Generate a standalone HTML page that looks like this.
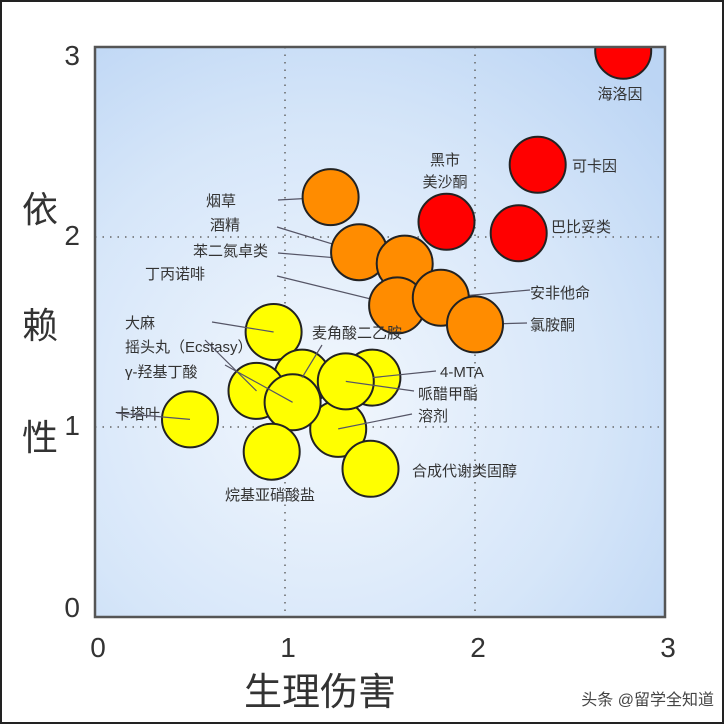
<!DOCTYPE html>
<html><head><meta charset="utf-8">
<style>
html,body{margin:0;padding:0;background:#fff;}
svg{display:block;font-family:"Liberation Sans","Noto Sans CJK SC",sans-serif;}
</style></head>
<body>
<svg id="chart" width="724" height="724" viewBox="0 0 724 724">
<defs>
<radialGradient id="bg" cx="0.4" cy="0.62" r="0.8">
<stop offset="0" stop-color="#f2f7fd"/>
<stop offset="0.6" stop-color="#d6e6f9"/>
<stop offset="1" stop-color="#bcd5f4"/>
</radialGradient>
<clipPath id="clip"><rect x="95" y="47" width="570" height="570"/></clipPath>
</defs>
<rect x="1" y="1" width="722" height="722" fill="#fff" stroke="#222" stroke-width="2"/>
<rect x="95" y="47" width="570" height="570" fill="url(#bg)"/>
<g id="grid"></g>
<g id="leaders"></g>
<g id="marks" clip-path="url(#clip)"></g>
<rect x="95" y="47" width="570" height="570" fill="none" stroke="#555" stroke-width="2.5"/>
<g id="labels"></g>
<g id="ticks"></g>
<text x="40" y="222" font-size="36" fill="#333" text-anchor="middle">依</text>
<text x="40" y="338" font-size="36" fill="#333" text-anchor="middle">赖</text>
<text x="40" y="450" font-size="36" fill="#333" text-anchor="middle">性</text>
<text x="320" y="705" font-size="38" fill="#333" text-anchor="middle">生理伤害</text>
<text x="714" y="705" font-size="16" fill="#444" text-anchor="end">头条 @留学全知道</text>
</svg>
<script>
const names=["海洛因","可卡因","巴比妥类","美沙酮","烟草","酒精","苯二氮卓类","丁丙诺啡","安非他命","氯胺酮","大麻","4-MTA","麦角酸二乙胺","溶剂","摇头丸","γ-羟基丁酸","哌醋甲酯","卡塔叶","烷基亚硝酸盐","合成代谢类固醇"];
const harm=[2.78,2.33,2.23,1.85,1.24,1.39,1.63,1.59,1.82,2.0,0.94,1.46,1.09,1.28,0.85,1.04,1.32,0.5,0.93,1.45];
const dependence=[2.98,2.38,2.02,2.08,2.21,1.92,1.86,1.64,1.68,1.54,1.5,1.26,1.26,0.99,1.19,1.13,1.24,1.04,0.87,0.78];
const group=["red","red","red","red","orange","orange","orange","orange","orange","orange","yellow","yellow","yellow","yellow","yellow","yellow","yellow","yellow","yellow","yellow"];
const xTicks=[0,1,2,3];
const yTicks=[0,1,2,3];
const labelPos=[[620,99,"middle"],[572,171,"start"],[551,232,"start"],[445,165,"middle"],[236,206,"end"],[240,230,"end"],[268,256,"end"],[205,279,"end"],[530,298,"start"],[530,330,"start"],[125,328,"start"],[440,377,"start"],[312,338,"start"],[418,421,"start"],[125,352,"start"],[125,377,"start"],[418,399,"start"],[115,419,"start"],[270,500,"middle"],[412,476,"start"]];
const leaderStart=[null,null,null,null,[278,200],[277,227],[278,253],[277,276],[530,290],[527,323],[212,322],[436,371],[322,345],[412,414],[205,340],[225,365],[414,391],[117,413],null,null];
const colors={red:"#ff0000",orange:"#ff8c00",yellow:"#ffff00"};
const NS="http://www.w3.org/2000/svg";
const xs=v=>95+190*v, ys=v=>617-190*v;
const R=28;
function mk(t,a){const e=document.createElementNS(NS,t);for(const k in a)e.setAttribute(k,a[k]);return e;}
const grid=document.getElementById("grid");
[1,2].forEach(v=>{
 const l1=mk("line",{x1:xs(v),x2:xs(v),y1:47,y2:617,stroke:"#666","stroke-width":1.5,"stroke-dasharray":"1.5 6"});
 
 
 grid.appendChild(l1);
 const l2=mk("line",{x1:95,x2:665,y1:ys(v),y2:ys(v),stroke:"#666","stroke-width":1.5,"stroke-dasharray":"1.5 6"});
 
 
 grid.appendChild(l2);
});
const ticks=document.getElementById("ticks");
xTicks.forEach(v=>{
 const t=mk("text",{x:xs(v)+3,y:657,"font-size":28,fill:"#333","text-anchor":"middle"});t.textContent=v;
 
 
 ticks.appendChild(t);
});
yTicks.forEach(v=>{
 const t=mk("text",{x:80,y:ys(v)+ (v==3?18:(v==0?0:8)),"font-size":28,fill:"#333","text-anchor":"end"});t.textContent=v;
 
 
 ticks.appendChild(t);
});
const leaders=document.getElementById("leaders");
const marks=document.getElementById("marks");
const labels=document.getElementById("labels");
names.forEach((n,i)=>{
 const cx=xs(harm[i]),cy=ys(dependence[i]);
 const c=mk("circle",{cx:cx,cy:cy,r:R,fill:colors[group[i]],stroke:"#222","stroke-width":2});
 
 
 marks.appendChild(c);
 const p=labelPos[i];
 if(i===3){
  ["黑市","美沙酮"].forEach((s,k)=>{
   const t=mk("text",{x:p[0],y:p[1]+k*22,"font-size":15,fill:"#333","text-anchor":"middle"});t.textContent=s;
   
   
   labels.appendChild(t);
  });
 } else {
  const t=mk("text",{x:p[0],y:p[1],"font-size":15,fill:"#333","text-anchor":p[2]});
  t.textContent=(i===14)?"摇头丸（Ecstasy）":n;
  
  
  labels.appendChild(t);
 }
 const s=leaderStart[i];
 if(s){
  const l=mk("line",{x1:s[0],y1:s[1],x2:cx,y2:cy,stroke:"#556","stroke-width":1.2});
  
  
  (i>=10?labels:leaders).appendChild(l);
 }
});
</script>
</body></html>
